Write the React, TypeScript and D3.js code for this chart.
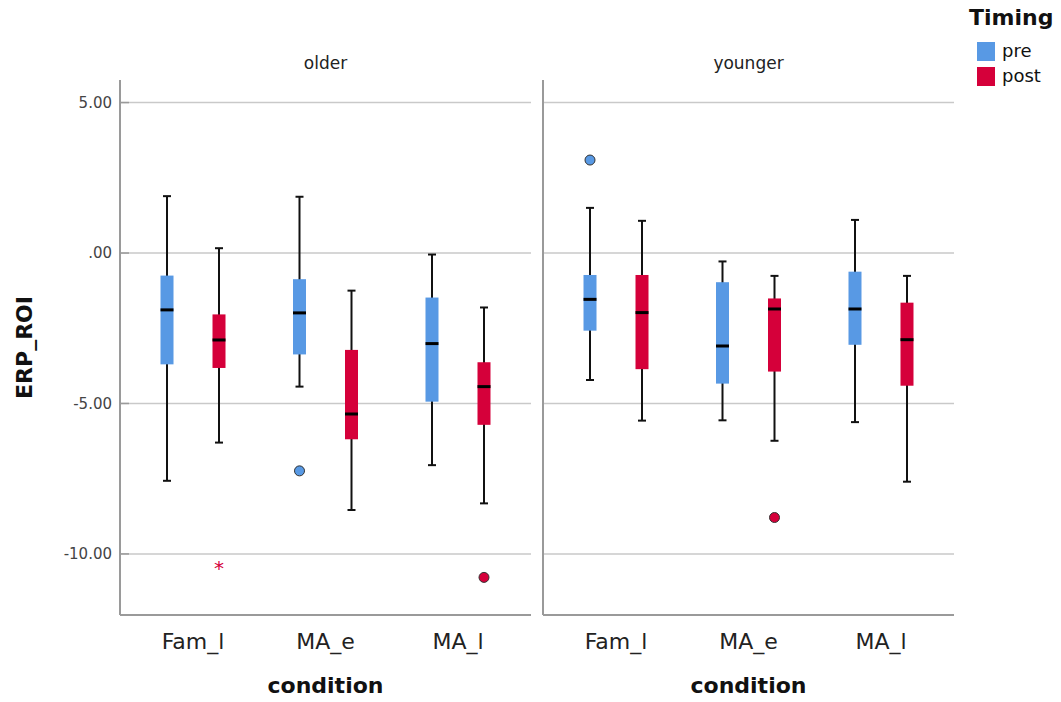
import React from "react";
import * as d3 from "d3";

const panels = ["older", "younger"];
const conditions = ["Fam_l", "MA_e", "MA_l"];
const timings = ["pre", "post"];
const yTicks = [5, 0, -5, -10];
const yTickLabels = ["5.00", ".00", "-5.00", "-10.00"];

// one entry per box: older(Fam_l pre, Fam_l post, MA_e pre, ...), then younger
const boxPanel = ["older", "older", "older", "older", "older", "older", "younger", "younger", "younger", "younger", "younger", "younger"];
const boxCondition = ["Fam_l", "Fam_l", "MA_e", "MA_e", "MA_l", "MA_l", "Fam_l", "Fam_l", "MA_e", "MA_e", "MA_l", "MA_l"];
const boxTiming = ["pre", "post", "pre", "post", "pre", "post", "pre", "post", "pre", "post", "pre", "post"];
const whiskerHigh = [1.89, 0.16, 1.87, -1.25, -0.05, -1.81, 1.5, 1.07, -0.28, -0.76, 1.1, -0.76];
const q3 = [-0.75, -2.04, -0.87, -3.22, -1.48, -3.63, -0.73, -0.73, -0.97, -1.51, -0.62, -1.65];
const medians = [-1.89, -2.89, -1.99, -5.35, -3.01, -4.44, -1.54, -1.98, -3.09, -1.86, -1.86, -2.88];
const q1 = [-3.7, -3.82, -3.37, -6.19, -4.94, -5.71, -2.58, -3.86, -4.34, -3.94, -3.05, -4.41];
const whiskerLow = [-7.57, -6.3, -4.44, -8.54, -7.05, -8.32, -4.22, -5.57, -5.56, -6.24, -5.62, -7.6];

const outlierPanel = ["older", "older", "younger", "younger"];
const outlierCondition = ["MA_e", "MA_l", "Fam_l", "MA_e"];
const outlierTiming = ["pre", "post", "pre", "post"];
const outlierValue = [-7.24, -10.78, 3.09, -8.79];

const extremePanel = ["older"];
const extremeCondition = ["Fam_l"];
const extremeTiming = ["post"];
const extremeValue = [-10.39];

const colors: Record<string, string> = { pre: "#5899e4", post: "#d5003a" };

const W = 1061;
const H = 702;
const top = 80;
const bottom = 615;
const font = "DejaVu Sans, sans-serif";

const panelX = d3.scaleOrdinal<string, [number, number]>().domain(panels).range([
  [120, 531],
  [543, 954],
]);
const y = d3.scaleLinear().domain([-12.03, 5.75]).range([bottom, top]);
const sub = d3.scalePoint().domain(timings).range([-26, 26]);

function condScale(panel: string) {
  return d3.scalePoint().domain(conditions).range(panelX(panel)).padding(0.551);
}

function xOf(panel: string, cond: string, timing: string) {
  return (condScale(panel)(cond) as number) + (sub(timing) as number);
}

export default function App() {
  const bw = 13;
  return (
    <svg width={W} height={H} style={{ position: "absolute", left: 0, top: 0, background: "#fff" }} fontFamily={font}>
      {panels.map((p) => {
        const [x0, x1] = panelX(p);
        const cs = condScale(p);
        return (
          <g key={p}>
            {yTicks.map((t) => (
              <line key={t} x1={x0} x2={x1} y1={y(t)} y2={y(t)} stroke="#c9c9c9" strokeWidth={1.5} />
            ))}
            <line x1={x0} x2={x0} y1={top} y2={bottom} stroke="#9a9a9a" strokeWidth={2} />
            <line x1={x0} x2={x1} y1={bottom} y2={bottom} stroke="#9a9a9a" strokeWidth={2} />
            <text x={(x0 + x1) / 2} y={69} textAnchor="middle" fontSize={17} fill="#222">
              {p}
            </text>
            {conditions.map((c) => (
              <text key={c} x={cs(c)} y={649} textAnchor="middle" fontSize={22} fill="#222">
                {c}
              </text>
            ))}
            <text x={(x0 + x1) / 2} y={693} textAnchor="middle" fontSize={22} fontWeight="bold" fill="#111">
              condition
            </text>
          </g>
        );
      })}

      {yTicks.map((t, i) => (
        <g key={t}>
          <line x1={120} x2={129} y1={y(t)} y2={y(t)} stroke="#9a9a9a" strokeWidth={1.5} />
          <text x={112} y={y(t)} dy="0.35em" textAnchor="end" fontSize={15} fill="#444">
            {yTickLabels[i]}
          </text>
        </g>
      ))}
      <text
        transform={`translate(32,${(top + bottom) / 2}) rotate(-90)`}
        textAnchor="middle"
        fontSize={22}
        fontWeight="bold"
        fill="#111"
      >
        ERP_ROI
      </text>

      {boxPanel.map((p, i) => {
        const cx = xOf(p, boxCondition[i], boxTiming[i]);
        const col = colors[boxTiming[i]];
        return (
          <g key={i}>
            <line x1={cx} x2={cx} y1={y(whiskerHigh[i])} y2={y(whiskerLow[i])} stroke="#111" strokeWidth={2} />
            <line x1={cx - 4} x2={cx + 4} y1={y(whiskerHigh[i])} y2={y(whiskerHigh[i])} stroke="#111" strokeWidth={2} />
            <line x1={cx - 4} x2={cx + 4} y1={y(whiskerLow[i])} y2={y(whiskerLow[i])} stroke="#111" strokeWidth={2} />
            <rect x={cx - bw / 2} y={y(q3[i])} width={bw} height={y(q1[i]) - y(q3[i])} fill={col} />
            <line x1={cx - bw / 2} x2={cx + bw / 2} y1={y(medians[i])} y2={y(medians[i])} stroke="#000" strokeWidth={3} />
          </g>
        );
      })}

      {outlierPanel.map((p, i) => (
        <circle
          key={i}
          cx={xOf(p, outlierCondition[i], outlierTiming[i])}
          cy={y(outlierValue[i])}
          r={5}
          fill={colors[outlierTiming[i]]}
          stroke="#333"
          strokeWidth={1}
        />
      ))}
      {extremePanel.map((p, i) => (
        <text
          key={i}
          x={xOf(p, extremeCondition[i], extremeTiming[i])}
          y={y(extremeValue[i]) + 9}
          textAnchor="middle"
          fontSize={20}
          fill={colors[extremeTiming[i]]}
        >
          *
        </text>
      ))}

      <text x={969} y={25} fontSize={22} fontWeight="bold" fill="#111">
        Timing
      </text>
      {timings.map((t, i) => (
        <g key={t}>
          <rect x={977} y={42 + i * 25} width={18} height={19} fill={colors[t]} />
          <text x={1002} y={57 + i * 25} fontSize={18} fill="#111">
            {t}
          </text>
        </g>
      ))}
    </svg>
  );
}
